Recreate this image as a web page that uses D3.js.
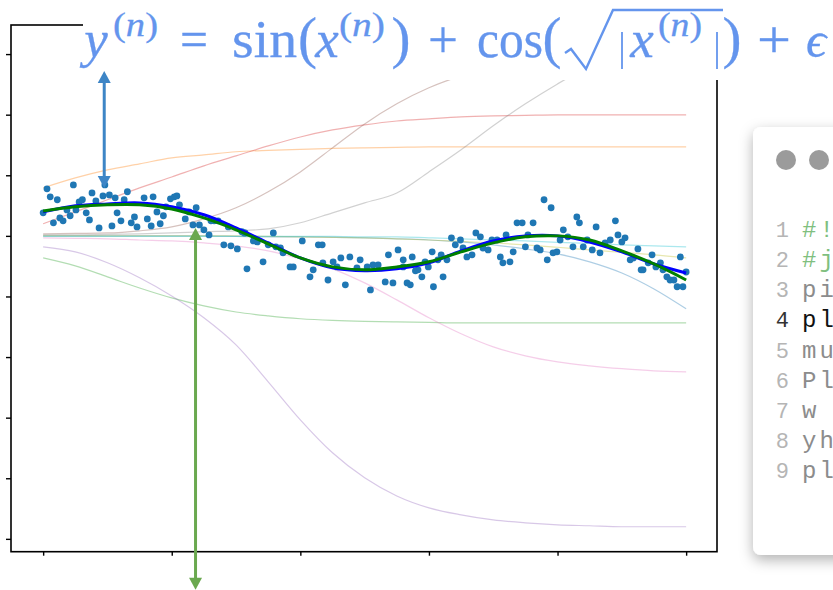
<!DOCTYPE html>
<html>
<head>
<meta charset="utf-8">
<script src="https://d3js.org/d3.v7.min.js"></script>
<style>
  body { margin: 0; background: #fff; }
  svg { display: block; }
</style>
</head>
<body>
<div id="chart"></div>
<script>
// grid where the model curves were sampled
const xGrid = [0, 0.5, 1, 1.5, 2, 2.5, 3, 3.5, 4, 4.5, 5, 5.5, 6, 6.5, 7, 7.5, 8, 8.5, 9, 9.5, 10];

// true function and fitted model
const trueY  = [1.03, 1.20, 1.28, 1.28, 1.11, 0.74, 0.25, -0.33, -0.91, -1.28, -1.40, -1.28, -1.07, -0.66, -0.29, -0.04, 0.00, -0.17, -0.62, -1.16, -1.82];
const modelY = [0.99, 1.24, 1.32, 1.36, 1.20, 0.87, 0.33, -0.29, -0.91, -1.32, -1.44, -1.36, -1.11, -0.62, -0.21, 0.00, 0.00, -0.25, -0.66, -1.16, -1.53];

// hidden unit contributions (tab10 order)
const unit0 = [0, 0, 0, 0, 0, 0, -0.02, -0.04, -0.04, -0.06, -0.08, -0.12, -0.17, -0.25, -0.37, -0.54, -0.74, -1.07, -1.53, -2.19, -3.01];
const unit1 = [1.98, 2.39, 2.72, 2.97, 3.22, 3.34, 3.47, 3.53, 3.57, 3.61, 3.63, 3.65, 3.67, 3.67, 3.67, 3.67, 3.67, 3.67, 3.67, 3.67, 3.67];
const unit2 = [-0.91, -1.24, -1.69, -2.15, -2.56, -2.89, -3.14, -3.30, -3.42, -3.49, -3.53, -3.55, -3.57, -3.59, -3.59, -3.59, -3.59, -3.59, -3.59, -3.59, -3.59];
const unit3 = [0.50, 0.99, 1.49, 1.98, 2.43, 2.89, 3.30, 3.71, 4.08, 4.37, 4.58, 4.74, 4.83, 4.91, 4.95, 4.97, 4.99, 4.99, 4.99, 4.99, 4.99];
const unit4 = [-0.45, -0.66, -1.11, -1.73, -2.48, -3.38, -4.50, -6.02, -7.59, -8.95, -9.98, -10.73, -11.22, -11.51, -11.72, -11.84, -11.92, -11.96, -12.00, -12.00, -12.00];
const unit5 = [0.08, 0.10, 0.12, 0.21, 0.37, 0.70, 1.16, 1.82, 2.64, 3.63, 4.62, 5.45, 6.11, 6.60, 6.97, 7.22, 7.34, 7.43, 7.47, 7.51, 7.51];
const unit6 = [-0.08, -0.10, -0.12, -0.17, -0.21, -0.29, -0.41, -0.62, -0.95, -1.36, -1.94, -2.64, -3.38, -4.04, -4.58, -4.95, -5.20, -5.36, -5.48, -5.57, -5.61];
const unit7 = [0.04, 0.04, 0.06, 0.08, 0.12, 0.17, 0.21, 0.29, 0.54, 0.95, 1.36, 1.77, 2.64, 3.55, 4.54, 5.45, 6.27, 7.01, 7.59, 7.92, 8.09];
const unit8 = [0, 0, 0, 0, 0, 0, 0, -0.02, -0.04, -0.06, -0.08, -0.12, -0.17, -0.23, -0.29, -0.37, -0.47, -0.58, -0.68, -0.78, -0.91];
const unit9 = [-0.02, -0.02, -0.02, -0.02, -0.02, -0.02, -0.02, -0.02, -0.02, -0.02, -0.04, -0.04, -0.08, -0.12, -0.17, -0.21, -0.27, -0.31, -0.37, -0.41, -0.45];
const units = [unit0, unit1, unit2, unit3, unit4, unit5, unit6, unit7, unit8, unit9];

// noisy samples
const ptsX = [0.06, 0.11, 0.22, 0.00, 0.16, 0.26, 0.31, 0.37, 0.42, 0.47, 0.51, 0.56, 0.61, 0.67, 0.72, 0.76, 0.82, 0.87, 0.93, 0.96,
  1.03, 1.07, 1.12, 1.15, 1.21, 1.26, 1.31, 1.37, 1.42, 1.46, 1.57, 1.62, 1.68, 1.71, 1.77, 1.82, 1.87, 1.91, 1.98, 2.04,
  2.08, 2.12, 2.21, 2.27, 2.33, 2.38, 2.43, 2.50, 2.58, 2.61, 2.66, 2.72, 2.81, 2.88, 2.92, 3.02, 3.13, 3.17,
  3.09, 3.14, 3.27, 3.33, 3.42, 3.50, 3.58, 3.62, 3.69, 3.73, 3.84, 3.89, 4.03, 4.15, 4.20, 4.28, 4.34, 4.35, 4.43, 4.51,
  4.57, 4.63, 4.70, 4.77, 4.88, 4.93, 5.04, 5.09, 5.13, 5.21, 5.32, 5.37, 5.44, 5.52, 5.60, 5.66, 5.74, 5.79,
  5.60, 5.71, 5.83, 5.89, 5.94, 5.99, 6.05, 6.07, 6.14, 6.19, 6.22, 6.28, 6.35, 6.41, 6.49, 6.53, 6.59, 6.67, 6.73, 6.80,
  6.84, 6.92, 6.98, 7.06, 7.11, 7.15, 7.20, 7.26, 7.31, 7.37, 7.45, 7.50, 7.54, 7.62, 7.68, 7.73, 7.79, 7.84, 7.90, 7.93,
  7.99, 8.04, 8.09, 8.16, 8.24, 8.30, 8.34, 8.40, 8.46, 8.54, 8.60, 8.66, 8.74, 8.82, 8.90, 8.94, 9.00, 9.05, 9.13, 9.18,
  9.25, 9.30, 9.33, 9.41, 9.47, 9.53, 9.60, 9.64, 9.70, 9.75, 9.81, 9.86, 9.91, 9.95, 10.00];
const ptsY = [1.94, 1.61, 1.49, 0.95, 0.54, 0.74, 0.62, 1.07, 0.83, 2.10, 1.07, 1.40, 1.49, 0.95, 0.66, 1.77, 1.44, 0.33, 1.65, 2.10,
  1.69, 0.41, 1.57, 0.95, 0.62, 1.49, 1.82, 0.54, 0.78, 0.37, 1.57, 0.70, 0.41, 1.61, 0.99, 0.50, 0.83, 1.20, 1.53, 1.61,
  1.65, 1.28, 0.70, 0.99, 0.45, 1.16, 0.45, 0.25, 0.04, 0.62, 0.62, 0.62, -0.37, 0.37, -0.41, -0.54, 0.12, -1.36,
  0.17, 0.12, -0.21, -0.25, -1.07, -0.37, 0.12, -0.45, -0.50, -0.70, -1.28, -1.28, -0.21, -1.69, -1.40, -0.37, -0.37, -1.11, -1.82, -1.07,
  -1.28, -0.91, -2.02, -0.87, -1.32, -0.99, -1.28, -2.23, -1.20, -1.20, -1.90, -0.78, -1.94, -0.58, -1.28, -1.94, -0.87, -1.44,
  -0.99, -2.02, -1.40, -1.69, -1.07, -1.28, -0.66, -2.10, -0.99, -0.78, -1.69, -0.99, -0.08, -0.37, -0.17, -0.50, -0.87, -0.78, 0.12, -0.04,
  -0.50, -0.58, -0.17, -0.17, -0.87, -1.11, 0.04, -1.07, -0.66, 0.54, 0.54, -0.45, 0.04, 0.54, -0.50, -0.58, 1.49, -0.99, 1.16, -0.70,
  -0.66, -0.17, 0.25, -0.04, -0.45, 0.78, 0.54, -0.45, -0.17, -0.58, 0.37, -0.70, -0.29, -0.17, 0.62, 0.04, -0.25, -0.08, -0.99, -0.91,
  -0.54, -1.40, -1.40, -1.11, -0.78, -1.28, -1.11, -1.40, -1.69, -1.82, -1.82, -2.10, -0.87, -2.10, -1.49];

// ticks (no labels shown)
const xTicks = [0, 2, 4, 6, 8, 10];
const yTicks = [7.5, 5, 2.5, 0, -2.5, -5, -7.5, -10, -12.5];

// annotation arrows (data coords)
const blueArrow = { x: 0.95, y1: 1.98, y2: 6.8 };
const greenArrow = { x: 2.37, y1: 0.33, y2: -14.6 };

// code panel lines
const codeLines = ["#!/usr/bin/env python3", "#jupyter nbconvert", "pip install numpy", "plt.plot(x, y)",
  "mu = 0.0", "Plot results", "w = np.zeros(10)", "yhat = model(x)", "plt.show()"];

const tab10 = ["#1f77b4", "#ff7f0e", "#2ca02c", "#d62728", "#9467bd", "#8c564b", "#e377c2", "#7f7f7f", "#bcbd22", "#17becf"];

const W = 833, H = 590;
const pL = 11, pR = 717, pT = 25, pB = 551.7;

const svg = d3.select("#chart").append("svg")
  .attr("width", W).attr("height", H)
  .style("font-family", "'Liberation Serif', serif");

const x = d3.scaleLinear().domain([-0.5, 10.48]).range([pL, pR]);
const y = d3.scaleLinear().domain([-13.03, 8.70]).range([pB, pT]);

const defs = svg.append("defs");
defs.append("clipPath").attr("id", "plotclip")
  .append("rect").attr("x", pL).attr("y", pT).attr("width", pR - pL).attr("height", pB - pT);

const plot = svg.append("g").attr("clip-path", "url(#plotclip)");

// faint hidden-unit curves
const unitLine = d3.line().x((d, i) => x(xGrid[i])).y(d => y(d)).curve(d3.curveMonotoneX);
units.forEach((u, k) => {
  plot.append("path").datum(u)
    .attr("d", unitLine)
    .attr("fill", "none")
    .attr("stroke", tab10[k])
    .attr("stroke-opacity", 0.36)
    .attr("stroke-width", 1.2);
});

// scatter
plot.selectAll(".pt").data(ptsX).enter().append("circle")
  .attr("class", "pt")
  .attr("cx", d => x(d))
  .attr("cy", (d, i) => y(ptsY[i]))
  .attr("r", 3.4)
  .attr("fill", "#1f77b4");

// model and true curves
const mainLine = d3.line().x((d, i) => x(xGrid[i])).y(d => y(d)).curve(d3.curveCatmullRom.alpha(0.5));
plot.append("path").datum(modelY).attr("d", mainLine)
  .attr("fill", "none").attr("stroke", "#0000ff").attr("stroke-width", 3);
plot.append("path").datum(trueY).attr("d", mainLine)
  .attr("fill", "none").attr("stroke", "#008000").attr("stroke-width", 3);

// frame
svg.append("rect")
  .attr("x", pL).attr("y", pT).attr("width", pR - pL).attr("height", pB - pT)
  .attr("fill", "none").attr("stroke", "#000").attr("stroke-width", 1.6);

// axes, ticks only
const xAxis = svg.append("g").attr("transform", `translate(0,${pB})`)
  .call(d3.axisBottom(x).tickValues(xTicks).tickFormat("").tickSizeInner(4).tickSizeOuter(0));
const yAxis = svg.append("g").attr("transform", `translate(${pL},0)`)
  .call(d3.axisLeft(y).tickValues(yTicks).tickFormat("").tickSizeInner(5).tickSizeOuter(0));
[xAxis, yAxis].forEach(a => {
  a.select(".domain").remove();
  a.selectAll(".tick line").attr("stroke", "#000").attr("stroke-width", 1.4);
});

// title box covers the top of the axes
svg.append("rect").attr("x", 83).attr("y", 0).attr("width", W - 83).attr("height", 80).attr("fill", "#fff");

const tcol = "#6495ed";
const title = svg.append("g").attr("fill", tcol)
  .attr("stroke", tcol).attr("stroke-width", 0.3);
function piece(txt, cx, base, size, italic, len) {
  const t = title.append("text")
    .attr("x", cx).attr("y", base)
    .attr("text-anchor", "middle")
    .style("font-size", size + "px")
    .style("font-style", italic ? "italic" : "normal");
  if (txt === "(n)") {
    t.append("tspan").text("(");
    t.append("tspan").style("font-style", "italic").text("n");
    t.append("tspan").text(")");
  } else {
    t.text(txt);
  }
  if (len) t.attr("textLength", len).attr("lengthAdjust", "spacingAndGlyphs");
  return t;
}
piece("y", 96, 57, 53, true);
piece("(n)", 135.5, 36, 34, false, 45);
piece("=", 194, 57, 52, false, 28);
piece("sin", 264.5, 57, 53, false, 65);
piece("(", 307.5, 57, 57, false);
piece("x", 327, 57, 53, true);
piece("(n)", 362, 36, 34, false, 46);
piece(")", 401, 57, 57, false);
piece("+", 443, 57, 52, false, 30);
piece("cos", 510, 57, 53, false, 66);
piece("(", 552, 57, 57, false);
piece("x", 642, 57, 53, true);
piece("(n)", 680, 36, 34, false, 44);
piece(")", 732, 57, 57, false);
piece("+", 774, 57, 52, false, 34);
piece("\u03f5", 816, 57, 50, true);
// radical and absolute bars
title.append("path")
  .attr("d", "M565,53 L571,49 L586,69 L613,10 L723,10")
  .attr("fill", "none").attr("stroke", tcol).attr("stroke-width", 2.4).attr("stroke-linejoin", "miter");
[622, 717].forEach(bx => {
  title.append("line").attr("x1", bx).attr("x2", bx).attr("y1", 32).attr("y2", 69)
    .attr("stroke", tcol).attr("stroke-width", 1.8);
});

// double-headed arrows
function arrow(a, color) {
  const px = x(a.x), ya = y(a.y1), yb = y(a.y2);
  const dir = Math.sign(yb - ya), hl = 12, hw = 6.5;
  svg.append("line").attr("x1", px).attr("x2", px)
    .attr("y1", ya + dir * hl * 0.8).attr("y2", yb - dir * hl * 0.8)
    .attr("stroke", color).attr("stroke-width", 3);
  [[ya, -dir], [yb, dir]].forEach(([tip, s]) => {
    svg.append("path")
      .attr("d", `M${px},${tip} L${px - hw},${tip - s * hl} L${px + hw},${tip - s * hl} Z`)
      .attr("fill", color);
  });
}
arrow(blueArrow, "#3d85c6");
arrow(greenArrow, "#6aa84f");

// code window
const f = defs.append("filter").attr("id", "shadow").attr("x", "-30%").attr("y", "-10%").attr("width", "160%").attr("height", "130%");
f.append("feDropShadow").attr("dx", 0).attr("dy", 5).attr("stdDeviation", 7)
  .attr("flood-color", "#000").attr("flood-opacity", 0.3);

const panel = svg.append("g");
panel.append("rect").attr("x", 753).attr("y", 127).attr("width", 140).attr("height", 428)
  .attr("rx", 8).attr("fill", "#fff").attr("filter", "url(#shadow)");
[786, 819, 852].forEach(cx => {
  panel.append("circle").attr("cx", cx).attr("cy", 160).attr("r", 10).attr("fill", "#9b9b9b");
});
const lineY = d3.scaleLinear().domain([1, 9]).range([237, 478]);
codeLines.forEach((txt, i) => {
  const n = i + 1, hl = n === 4, cm = txt.startsWith("#");
  panel.append("text").attr("x", 789).attr("y", lineY(n)).attr("text-anchor", "end")
    .style("font-family", "'Liberation Mono', monospace").style("font-size", "22px")
    .attr("fill", hl ? "#333" : "#b5b5b5").text(n);
  panel.append("text").attr("x", 802).attr("y", lineY(n))
    .style("font-family", "'Liberation Mono', monospace").style("font-size", "24px")
    .style("letter-spacing", "3px")
    .attr("fill", hl ? "#111" : (cm ? "#7fbf7f" : "#8c8c8c")).text(txt);
});
</script>
</body>
</html>
